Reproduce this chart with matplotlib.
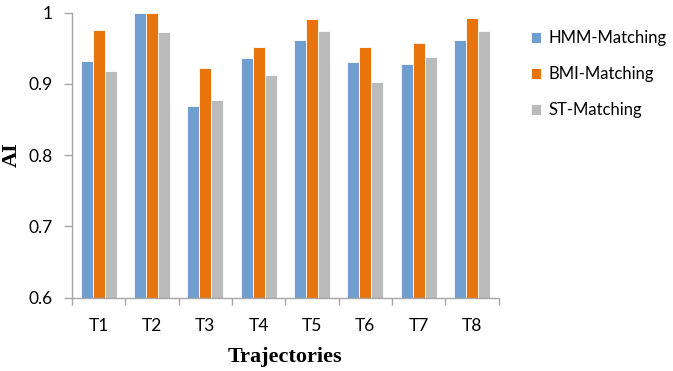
import numpy as np
import matplotlib
matplotlib.use('Agg')
import matplotlib.pyplot as plt
from matplotlib.ticker import FixedLocator, FuncFormatter

TRAJECTORIES = ['T1', 'T2', 'T3', 'T4', 'T5', 'T6', 'T7', 'T8']
HMM = [0.932, 0.999, 0.869, 0.936, 0.962, 0.930, 0.928, 0.962]
BMI = [0.975, 1.000, 0.922, 0.952, 0.991, 0.952, 0.958, 0.993]
ST = [0.918, 0.973, 0.878, 0.912, 0.974, 0.902, 0.938, 0.974]
SERIES = [('HMM-Matching', HMM, '#6f9fd0'),
          ('BMI-Matching', BMI, '#e8740b'),
          ('ST-Matching', ST, '#bbbbbb')]

AXIS_GRAY = '#a6a6a6'
TEXT_FONT = ['Lato', 'DejaVu Sans']

fig = plt.figure(figsize=(6.73, 3.71), dpi=100)
ax = fig.add_axes([0.107, 0.198, 0.634, 0.768])

x = np.arange(len(TRAJECTORIES))
width = 0.225
for i, (name, vals, color) in enumerate(SERIES):
    ax.bar(x + (i - 1) * width, vals, width, bottom=0,
           color=color, edgecolor='white', linewidth=0.6, label=name)

ax.set_xlim(-0.5, len(TRAJECTORIES) - 0.5)
ax.set_ylim(0.6, 1.0)
ax.set_yticks([0.6, 0.7, 0.8, 0.9, 1.0])
ax.yaxis.set_major_formatter(FuncFormatter(lambda v, _: f'{v:g}'))

ax.set_xticks(x)
ax.set_xticklabels(TRAJECTORIES, family=TEXT_FONT, fontsize=12.5)
ax.xaxis.set_minor_locator(FixedLocator(np.arange(-0.5, len(TRAJECTORIES), 1.0)))
ax.tick_params(axis='x', which='major', length=0, pad=15)
ax.tick_params(axis='x', which='minor', length=5, color=AXIS_GRAY, width=1)
ax.tick_params(axis='y', length=6, color=AXIS_GRAY, width=1, labelsize=12.5, pad=8)
for lbl in ax.get_yticklabels():
    lbl.set_family(TEXT_FONT)

for side in ('top', 'right'):
    ax.spines[side].set_visible(False)
for side in ('left', 'bottom'):
    ax.spines[side].set_color(AXIS_GRAY)
    ax.spines[side].set_linewidth(1)

ax.set_xlabel('Trajectories', family='Liberation Serif', fontweight='bold',
              fontsize=16, labelpad=9)
ax.set_ylabel('AI', family='Liberation Serif', fontweight='bold', fontsize=16)
ax.yaxis.set_label_coords(-0.118, 0.5)

leg = ax.legend(loc='upper left', bbox_to_anchor=(1.04, 0.99), frameon=False,
                prop={'family': TEXT_FONT, 'size': 12}, handlelength=0.6,
                handleheight=0.6, handletextpad=0.45, labelspacing=1.2)

fig.savefig('out.png', dpi=100)
